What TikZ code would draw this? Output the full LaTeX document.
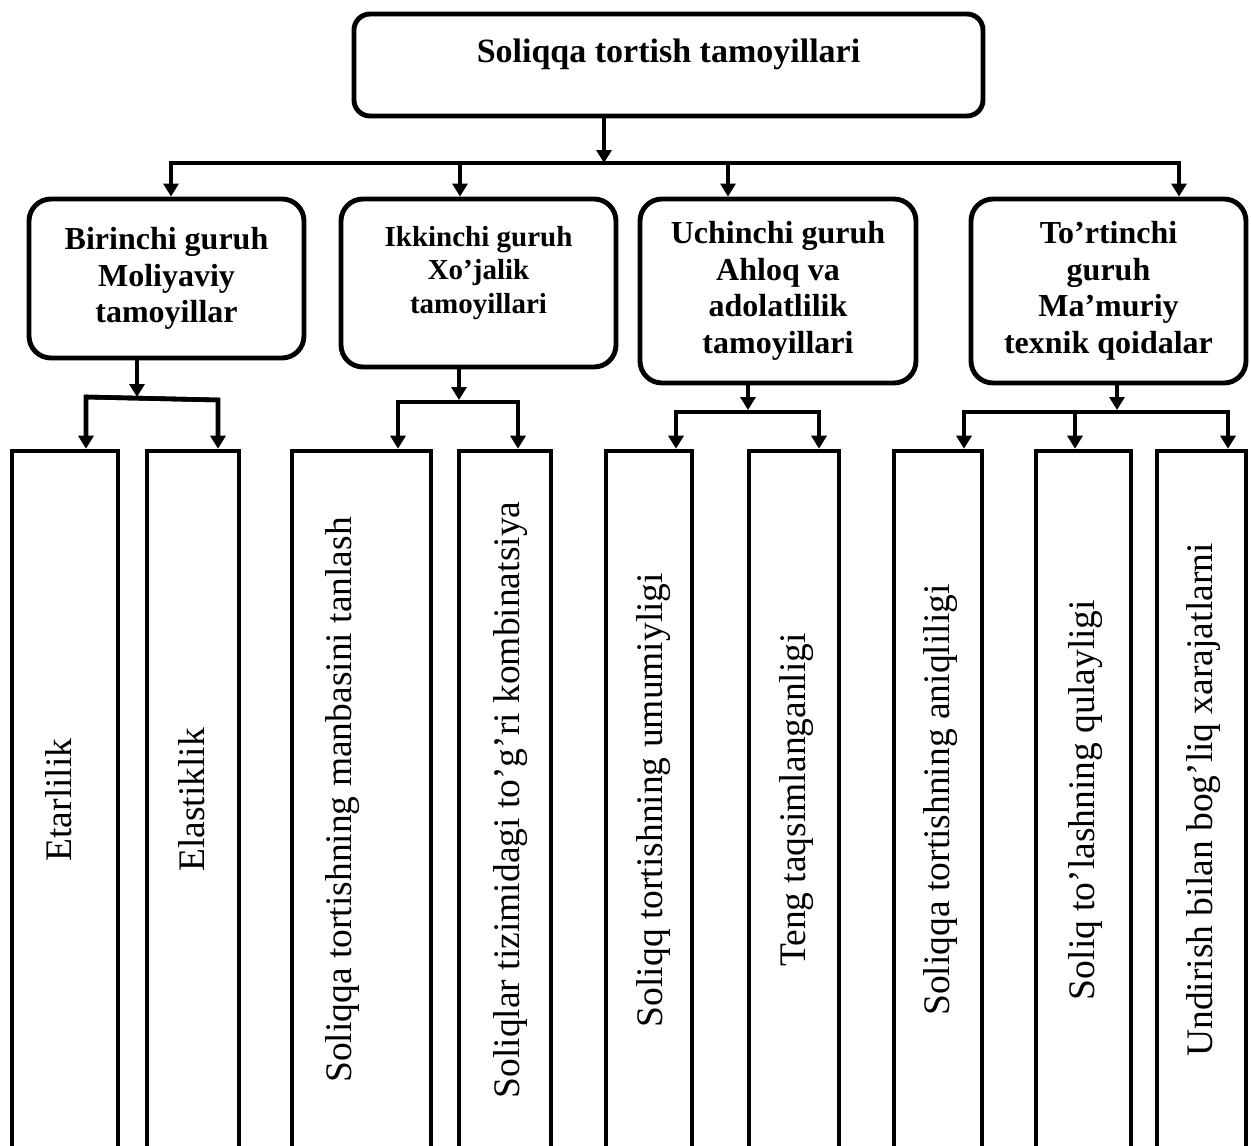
\documentclass[tikz,border=0pt]{standalone}
\usepackage{fontspec}
\setmainfont{Liberation Serif}
\usetikzlibrary{arrows.meta}

% shift a rotated label across its box without changing the box size
\newcommand{\liftby}[2]{\raisebox{#1}[\height][\depth]{#2}}

\begin{document}
\begin{tikzpicture}[x=1pt,y=1pt,
  conn/.style={line width=4.6pt},
  arr/.style={conn,-{Triangle[width=15pt,length=13pt]}},
  groupbox/.style={draw,line width=4.9pt,rounded corners=22pt,align=center,inner sep=0pt,
    font=\bfseries\fontsize{32}{36.5}\selectfont},
  leaf/.style={draw,line width=4.6pt,rotate=90,inner sep=0pt,minimum width=698pt,
    text height=25pt,text depth=3pt,font=\fontsize{37.5}{40}\selectfont},
]
\useasboundingbox[fill=white] (0,0) rectangle (1251,-1146);

% title box
\node[groupbox,rounded corners=16pt,minimum width=629pt,minimum height=102pt,
  font=\bfseries\fontsize{34}{40}\selectfont] (top) at (668.5,-65)
  {\liftby{11pt}{Soliqqa tortish tamoyillari}};

% four groups
\node[groupbox,minimum width=275pt,minimum height=159pt] (g1) at (166.5,-278.5)
  {Birinchi guruh\\Moliyaviy\\tamoyillar};
\node[groupbox,minimum width=275pt,minimum height=168pt,
  font=\bfseries\fontsize{29}{33.5}\selectfont] (g2) at (478.5,-283)
  {\liftby{10pt}{\begin{tabular}{@{}c@{}}Ikkinchi guruh\\ Xo’jalik\\ tamoyillari\end{tabular}}};
\node[groupbox,minimum width=276pt,minimum height=184pt] (g3) at (778,-291)
  {Uchinchi guruh\\Ahloq va\\adolatlilik\\tamoyillari};
\node[groupbox,minimum width=275pt,minimum height=184pt] (g4) at (1108.5,-291)
  {To’rtinchi\\guruh\\Ma’muriy\\texnik qoidalar};

% principles (boxes run past the lower edge)
\node[leaf,minimum height=106pt] (b1) at (65,-800) {\liftby{5pt}{Etarlilik}};
\node[leaf,minimum height=92pt] (b2) at (193,-800) {Elastiklik};
\node[leaf,minimum height=139pt] (b3) at (361.5,-800)
  {\liftby{21pt}{Soliqqa tortishning manbasini tanlash}};
\node[leaf,minimum height=92pt] (b4) at (505,-800)
  {\liftby{-3pt}{Soliqlar tizimidagi to’g’ri kombinatsiya}};
\node[leaf,minimum height=86pt] (b5) at (649,-800)
  {\liftby{-2pt}{Soliqq tortishning umumiyligi}};
\node[leaf,minimum height=90pt] (b6) at (794,-800) {Teng taqsimlanganligi};
\node[leaf,minimum height=88pt] (b7) at (938,-800) {Soliqqa tortishning aniqliligi};
\node[leaf,minimum height=95pt] (b8) at (1083.5,-800) {Soliq to’lashning qulayligi};
\node[leaf,minimum height=89pt] (b9) at (1201.5,-800) {Undirish bilan bog’liq xarajatlarni};

% junction points
\coordinate (t0) at (604,-163);
\coordinate (bL) at (171,-163);
\coordinate (m2) at (460,-163);
\coordinate (m3) at (728,-163);
\coordinate (bR) at (1179,-163);

\coordinate (a1) at (137,-397);
\coordinate (j1L) at (86,-397);
\coordinate (j1R) at (218,-400);
\coordinate (a2) at (459,-400);
\coordinate (j2L) at (398,-402);
\coordinate (j2R) at (518,-402);
\coordinate (a3) at (748,-410);
\coordinate (j3L) at (676,-412);
\coordinate (j3R) at (819,-412);
\coordinate (a4) at (1117,-410);
\coordinate (j4L) at (964,-412);
\coordinate (j4M) at (1075,-412);
\coordinate (j4R) at (1228,-412);

% title to groups
\draw[arr] (top.south -| t0) -- (t0);
\draw[arr] (t0) -- (bL) -- (g1.north -| bL);
\draw[arr] (t0) -- (bR) -- (g4.north -| bR);
\draw[arr] (m2) -- (g2.north -| m2);
\draw[arr] (m3) -- (g3.north -| m3);

% groups to principles
\draw[arr] (g1.south -| a1) -- (a1);
\draw[arr] (j1R) -- (j1L) -- (b1.east -| j1L);
\draw[arr] (j1L) -- (j1R) -- (b2.east -| j1R);

\draw[arr] (g2.south -| a2) -- (a2);
\draw[arr] (j2R) -- (j2L) -- (b3.east -| j2L);
\draw[arr] (j2L) -- (j2R) -- (b4.east -| j2R);

\draw[arr] (g3.south -| a3) -- (a3);
\draw[arr] (j3R) -- (j3L) -- (b5.east -| j3L);
\draw[arr] (j3L) -- (j3R) -- (b6.east -| j3R);

\draw[arr] (g4.south -| a4) -- (a4);
\draw[arr] (j4R) -- (j4L) -- (b7.east -| j4L);
\draw[arr] (j4M) -- (b8.east -| j4M);
\draw[arr] (j4L) -- (j4R) -- (b9.east -| j4R);
\end{tikzpicture}
\end{document}
